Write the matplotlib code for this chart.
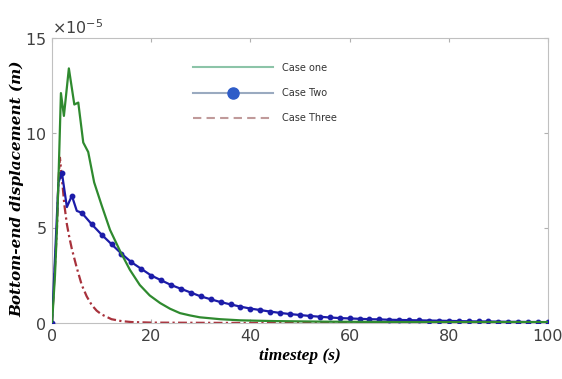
import matplotlib
matplotlib.use("Agg")
import matplotlib.pyplot as plt
from matplotlib.lines import Line2D
import numpy as np

# ---- data (values in units of 1e-5 m) ----
t_one = [0, 0.2, 0.6, 1.0, 1.3, 1.8, 2.4, 3.4, 4.5, 5.3, 6.3, 7.3, 8.5, 10, 11.7, 13.7,
         15.7, 17.7, 19.7, 21.8, 23.8, 25.8, 27.8, 29.8, 33.9, 38, 45, 55, 70, 85, 100]
y_one = [0, 0.8, 2.5, 5.0, 7.5, 12.1, 10.9, 13.4, 11.5, 11.6, 9.5, 9.0, 7.4, 6.2, 4.9, 3.8,
         2.8, 2.0, 1.45, 1.05, 0.75, 0.52, 0.4, 0.3, 0.2, 0.14, 0.1, 0.07, 0.05, 0.05, 0.05]

t_two = [0, 1.3, 2, 3, 4, 5, 6, 8, 10, 12, 14, 16, 18, 20, 22, 24, 26, 28, 30, 32, 34, 36, 38,
         40, 42, 44, 46, 48, 50, 52, 54, 56, 58, 60, 62, 64, 66, 68, 70, 72, 74, 76, 78, 80,
         82, 84, 86, 88, 90, 92, 94, 96, 98, 100]
y_two = [0, 7.4, 7.9, 6.1, 6.7, 5.9, 5.8, 5.2, 4.65, 4.15, 3.65, 3.2, 2.85, 2.5, 2.25, 2.0,
         1.8, 1.6, 1.4, 1.25, 1.1, 0.98, 0.86, 0.76, 0.68, 0.6, 0.53, 0.47, 0.42, 0.37, 0.33,
         0.29, 0.26, 0.24, 0.22, 0.2, 0.19, 0.17, 0.16, 0.15, 0.14, 0.13, 0.12, 0.11, 0.1,
         0.09, 0.08, 0.08, 0.07, 0.06, 0.06, 0.05, 0.05, 0.04]

t_three = [0, 1.0, 1.3, 1.6, 2.0, 2.5, 3.0, 3.5, 4.0, 5, 6, 7, 8, 9, 10, 12, 14, 16, 20, 30,
           40, 60, 80, 100]
y_three = [0, 5.0, 7.5, 8.7, 7.6, 6.2, 5.2, 4.5, 3.9, 2.9, 2.0, 1.4, 0.95, 0.65, 0.45, 0.2,
           0.1, 0.05, 0.02, 0.01, 0.0, 0.0, 0.0, 0.0]

labels = ["Case one", "Case Two", "Case Three"]
scale = 1e-5

fig = plt.figure(figsize=(5.62, 3.79), dpi=100)
ax = fig.add_axes([52/562, 56/379, 496/562, 285/379])

green = "#2f8a2f"
blue = "#1c1ca8"
red = "#a8323c"

ax.plot(t_one, np.array(y_one) * scale, color=green, lw=1.6, zorder=4)
mk = [i for i, t in enumerate(t_two) if float(t).is_integer() and int(t) % 2 == 0]
ax.plot(t_two, np.array(y_two) * scale, color=blue, lw=1.6, marker="o", markersize=3.2,
        markevery=mk, zorder=3)
ax.plot(t_three, np.array(y_three) * scale, color=red, lw=1.6, ls=(0, (4, 1.5, 1, 1.5)), zorder=2)

ax.set_xlim(0, 100)
ax.set_ylim(0, 15e-5)
ax.set_xticks([0, 20, 40, 60, 80, 100])
ax.set_yticks([0, 5e-5, 10e-5, 15e-5])
ax.ticklabel_format(axis="y", style="sci", scilimits=(-5, -5), useMathText=True)
ax.tick_params(direction="in", top=True, right=True, length=3, color="#b0b0b0",
               labelsize=11.5, labelcolor="#404040", pad=4)
ax.yaxis.get_offset_text().set_fontsize(11.5)
ax.yaxis.get_offset_text().set_color("#404040")
for s in ax.spines.values():
    s.set_color("#c0c0c0")
    s.set_linewidth(0.8)

ax.set_xlabel("timestep (s)", family="Liberation Serif", fontweight="bold", style="italic",
              fontsize=12.5, labelpad=3)
ax.set_ylabel("Bottom-end displacement (m)", family="DejaVu Serif", fontweight="bold",
              style="italic", fontsize=11)
ax.yaxis.set_label_coords(-0.056, 0.47)

handles = [
    Line2D([], [], color="#8cc4a8", lw=1.5),
    Line2D([], [], color="#9aaac0", lw=1.5, marker="o", markersize=8,
           markerfacecolor="#2e5cc8", markeredgecolor="#2e5cc8"),
    Line2D([], [], color="#c09a9a", lw=1.5, ls=(0, (4, 2.5))),
]
leg = fig.legend(handles, labels, loc="upper left",
                 bbox_to_anchor=(188/562, 1 - 58/379), bbox_transform=fig.transFigure,
                 frameon=False, handlelength=8.2, handletextpad=1.0,
                 labelspacing=1.55, borderpad=0,
                 prop={"family": ["Liberation Sans Narrow", "DejaVu Sans"], "size": 7})
for txt in leg.get_texts():
    txt.set_color("#333333")

fig.savefig("out.png", dpi=100)
